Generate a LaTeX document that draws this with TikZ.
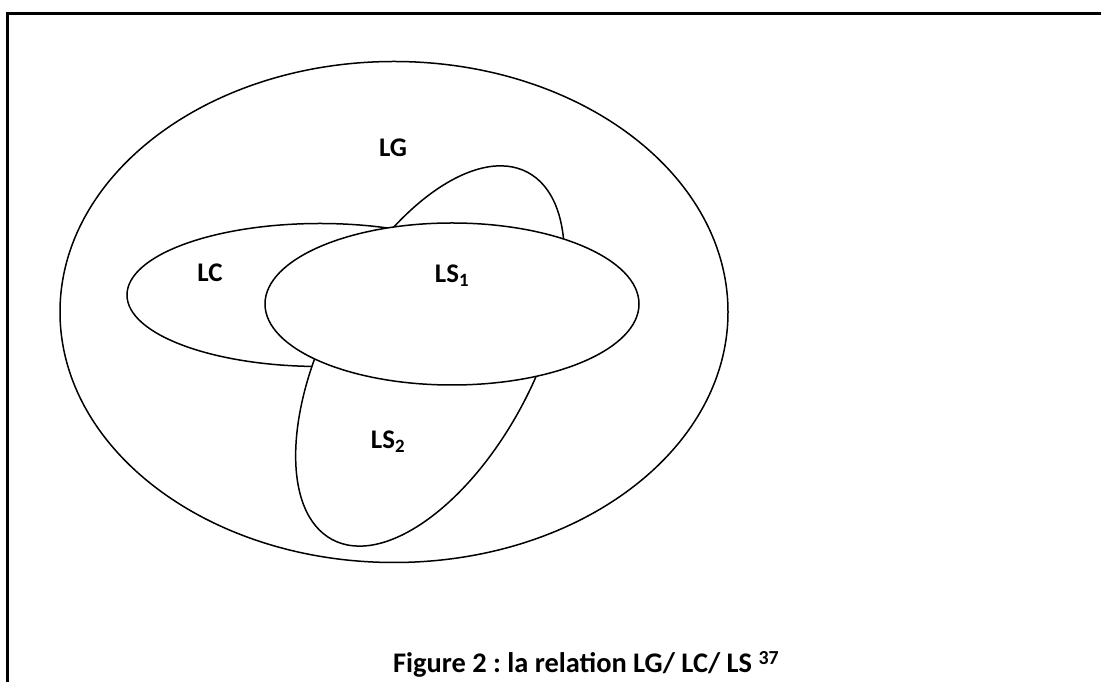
\documentclass[tikz,border=0pt]{standalone}
\usepackage{fontspec}
\setmainfont{Carlito}
\frenchspacing
\begin{document}
\begin{tikzpicture}[x=1bp,y=1bp,
  setline/.style={draw=black,line width=1.5bp,fill=white},
  lbl/.style={font=\fontsize{27}{32}\selectfont\bfseries,inner sep=0pt}]
\fill[white] (0,0) rectangle (1101,682);
\useasboundingbox (0,0) rectangle (1101,682);
\draw[line width=2.2bp] (1101,668.5) -- (7.5,668.5) -- (7.5,0);
% LG
\draw[setline] (394,370) ellipse [x radius=334, y radius=250.5];
% LC
\draw[setline] (320,387) ellipse [x radius=193, y radius=71.5];
% LS2 (tilted)
\draw[setline,rotate around={62:(430,326)}] (430,326) ellipse [x radius=208, y radius=104.5];
% LS1
\draw[setline] (452,378) ellipse [x radius=187, y radius=81];
\node[lbl] (lg) at (393,534) {LG};
\node[lbl] (lc) at (210,409) {LC};
\node[lbl] (ls1) at (452,406) {LS\textsubscript{1}};
\node[lbl] (ls2) at (388,240) {LS\textsubscript{2}};
\node[lbl,font=\fontsize{28.5}{34}\selectfont\bfseries,anchor=base west] (cap) at (393,9) {Figure 2 : la relation LG/ LC/ LS \textsuperscript{37}};
\end{tikzpicture}
\end{document}
